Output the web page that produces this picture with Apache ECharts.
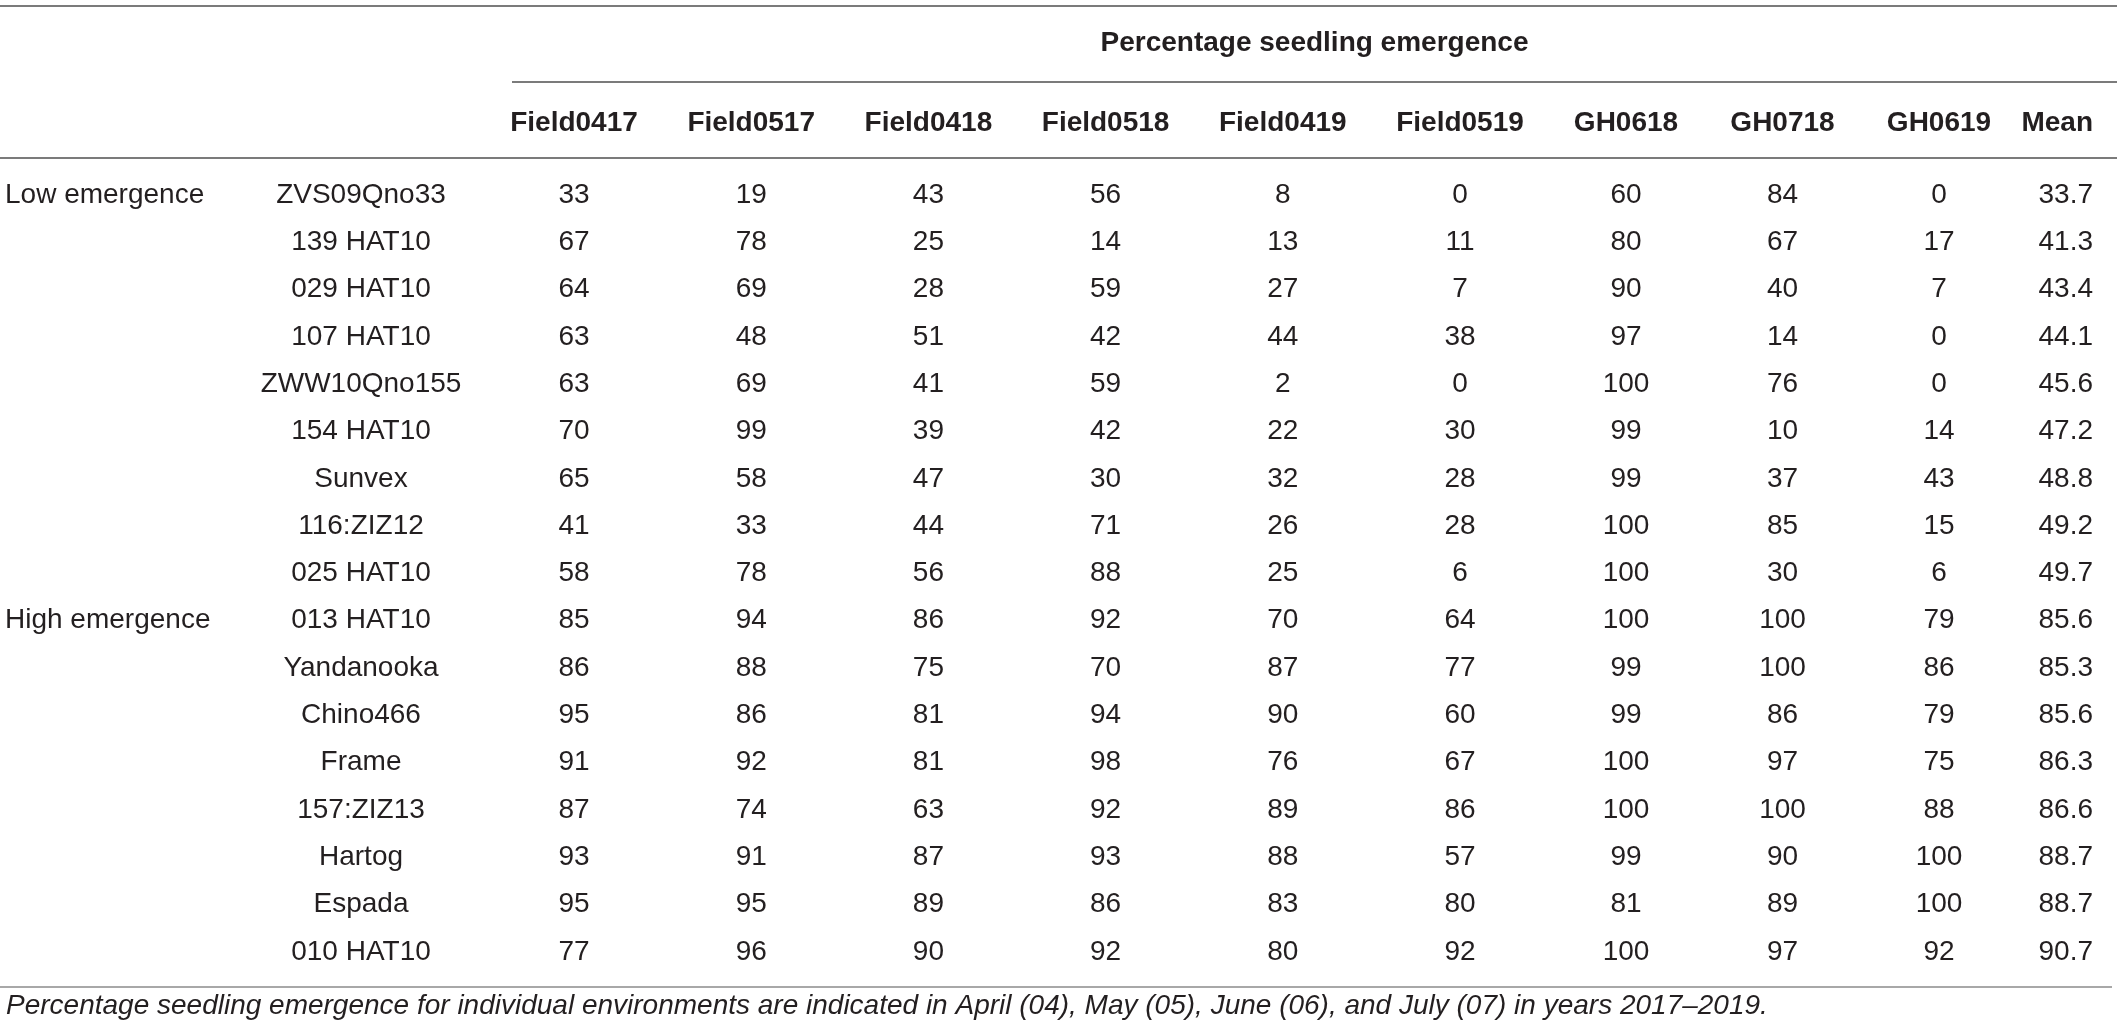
<!DOCTYPE html>
<html>
<head>
<meta charset="utf-8">
<title>Percentage seedling emergence</title>
<script src="https://cdn.jsdelivr.net/npm/echarts@6/dist/echarts.min.js"></script>
<style>
  html, body { margin: 0; padding: 0; background: #fff; }
  #main { width: 2117px; height: 1035px; }
</style>
</head>
<body>
<div id="main"></div>
<script>
// ---------------- data ----------------
const lowLines = ['ZVS09Qno33', '139 HAT10', '029 HAT10', '107 HAT10', 'ZWW10Qno155',
  '154 HAT10', 'Sunvex', '116:ZIZ12', '025 HAT10']
const highLines = ['013 HAT10', 'Yandanooka', 'Chino466', 'Frame', '157:ZIZ13',
  'Hartog', 'Espada', '010 HAT10']
const groupNames = ['Low emergence', 'High emergence']

const fieldCols = ['Field0417', 'Field0517', 'Field0418', 'Field0518', 'Field0419', 'Field0519']
const ghCols = ['GH0618', 'GH0718', 'GH0619']
const meanCols = ['Mean']

// one array per environment, rows in the order lowLines then highLines
const field0417 = [33, 67, 64, 63, 63, 70, 65, 41, 58, 85, 86, 95, 91, 87, 93, 95, 77]
const field0517 = [19, 78, 69, 48, 69, 99, 58, 33, 78, 94, 88, 86, 92, 74, 91, 95, 96]
const field0418 = [43, 25, 28, 51, 41, 39, 47, 44, 56, 86, 75, 81, 81, 63, 87, 89, 90]
const field0518 = [56, 14, 59, 42, 59, 42, 30, 71, 88, 92, 70, 94, 98, 92, 93, 86, 92]
const field0419 = [8, 13, 27, 44, 2, 22, 32, 26, 25, 70, 87, 90, 76, 89, 88, 83, 80]
const field0519 = [0, 11, 7, 38, 0, 30, 28, 28, 6, 64, 77, 60, 67, 86, 57, 80, 92]
const gh0618 = [60, 80, 90, 97, 100, 99, 99, 100, 100, 100, 99, 99, 100, 100, 99, 81, 100]
const gh0718 = [84, 67, 40, 14, 76, 10, 37, 85, 30, 100, 100, 86, 97, 100, 90, 89, 97]
const gh0619 = [0, 17, 7, 0, 0, 14, 43, 15, 6, 79, 86, 79, 75, 88, 100, 100, 92]
const meanValues = [33.7, 41.3, 43.4, 44.1, 45.6, 47.2, 48.8, 49.2, 49.7,
  85.6, 85.3, 85.6, 86.3, 86.6, 88.7, 88.7, 90.7]

const footnote = 'Percentage seedling emergence for individual environments are indicated in ' +
  'April (04), May (05), June (06), and July (07) in years 2017\u20132019.'
const spanner = 'Percentage seedling emergence'

// ---------------- layout ----------------
const rows = lowLines.concat(highLines)
const groupStart = { 0: groupNames[0] }
groupStart[lowLines.length] = groupNames[1]

const FONT = 'Liberation Sans, Arial, Helvetica, sans-serif'
const INK = '#231f20'
const RULE = '#7b7b7b'
const rowH = 47.3
const gridTop = 195 - rowH / 2
const gridH = rowH * rows.length
const headerY = 123

// column groups: [column names, value arrays, grid left, column width, decimals]
const groups = [
  [fieldCols, [field0417, field0517, field0418, field0518, field0419, field0519], 574 - 177.2 / 2, 177.2, 0],
  [ghCols, [gh0618, gh0718, gh0619], 1626 - 156.5 / 2, 156.5, 0],
  [meanCols, [meanValues], 2099 - 30, 60, 1]
]

const grid = []
const xAxis = []
const yAxis = []
const series = []

groups.forEach((g, gi) => {
  const [cols, arrays, left, colW, dec] = g
  const alignRight = gi === 2
  grid.push({ left: left, top: gridTop, width: colW * cols.length, height: gridH })
  xAxis.push({
    type: 'category',
    gridIndex: gi,
    position: 'top',
    data: cols,
    axisLine: { show: false },
    axisTick: { show: false },
    splitLine: { show: false },
    axisLabel: {
      interval: 0,
      margin: gridTop - headerY,
      verticalAlign: 'middle',
      align: alignRight ? 'right' : 'center',
      fontFamily: FONT,
      fontSize: 28,
      fontWeight: 'bold',
      color: INK
    }
  })
  yAxis.push({
    type: 'category',
    gridIndex: gi,
    inverse: true,
    data: rows,
    axisLine: { show: false },
    axisTick: { show: false },
    splitLine: { show: false },
    axisLabel: gi === 0 ? {
      interval: 0,
      align: 'center',
      margin: left - 361,
      fontFamily: FONT,
      fontSize: 28,
      color: INK
    } : { show: false }
  })

  const cells = []
  arrays.forEach((arr, ci) => {
    arr.forEach((v, ri) => cells.push([cols[ci], rows[ri], v]))
  })
  series.push({
    type: 'scatter',
    xAxisIndex: gi,
    yAxisIndex: gi,
    data: cells,
    symbolSize: 1,
    itemStyle: { color: 'transparent', opacity: 1 },
    silent: true,
    label: {
      show: true,
      position: 'inside',
      align: alignRight ? 'right' : 'center',
      formatter: p => p.value[2].toFixed(dec),
      fontFamily: FONT,
      fontSize: 28,
      color: INK,
      opacity: 1
    },
    emphasis: { disabled: true }
  })
})

// group names ("Low emergence" / "High emergence") on a second y axis of the first grid
yAxis.push({
  type: 'category',
  gridIndex: 0,
  inverse: true,
  position: 'left',
  data: rows,
  axisLine: { show: false },
  axisTick: { show: false },
  splitLine: { show: false },
  axisLabel: {
    interval: 0,
    align: 'left',
    margin: groups[0][2] - 5,
    formatter: (v, i) => groupStart[i] || '',
    fontFamily: FONT,
    fontSize: 28,
    color: INK
  }
})

const chart = echarts.init(document.getElementById('main'), null, { renderer: 'canvas' })

function rule(x1, x2, y, color) {
  return {
    type: 'line',
    silent: true,
    shape: { x1: x1, y1: y, x2: x2, y2: y },
    style: { stroke: color || RULE, lineWidth: 2 }
  }
}

chart.setOption({
  animation: false,
  backgroundColor: '#fff',
  grid: grid,
  xAxis: xAxis,
  yAxis: yAxis,
  series: series,
  graphic: [
    rule(0, 2117, 6),
    rule(512, 2117, 82),
    rule(0, 2117, 158),
    rule(0, 2112, 987, '#a8a8a8'),
    {
      type: 'text',
      x: (512 + 2117) / 2,
      y: 43,
      silent: true,
      style: {
        text: spanner,
        align: 'center',
        verticalAlign: 'middle',
        fontFamily: FONT,
        fontSize: 28,
        fontWeight: 'bold',
        fill: INK
      }
    },
    {
      type: 'text',
      x: 6,
      y: 1006,
      silent: true,
      style: {
        text: footnote,
        align: 'left',
        verticalAlign: 'middle',
        fontFamily: FONT,
        fontSize: 28,
        fontStyle: 'italic',
        fill: INK
      }
    }
  ]
})
</script>
</body>
</html>
